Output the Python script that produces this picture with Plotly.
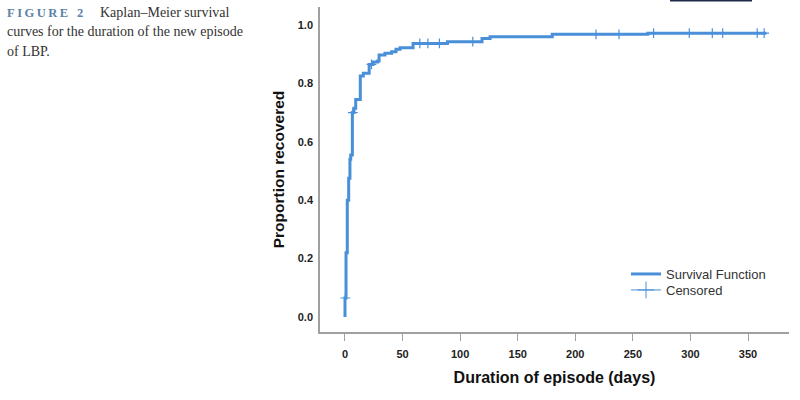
import plotly.graph_objects as go

# Kaplan-Meier curve (proportion recovered)
event_days = [0, 0.9, 2.0, 3.2, 4.3, 5.0, 6.4, 7.8, 9.3, 13.3, 15.9, 21, 24.3, 28.4,
              29.6, 34.7, 40.5, 44.3, 47.8, 59.1, 89, 119, 126, 180, 263, 366]
recovered = [0.065, 0.22, 0.40, 0.475, 0.54, 0.555, 0.70, 0.715, 0.745, 0.825, 0.835,
             0.865, 0.873, 0.877, 0.897, 0.903, 0.908, 0.917, 0.922, 0.937, 0.943,
             0.954, 0.960, 0.968, 0.972, 0.972]

censor_days = [0.3, 6.8, 23, 65, 72, 82, 111, 218, 238, 268, 299, 319, 328, 358, 364]
censor_vals = [0.065, 0.70, 0.865, 0.937, 0.937, 0.937, 0.943, 0.968, 0.968, 0.972,
               0.972, 0.972, 0.972, 0.972, 0.972]

x_ticks = [0, 50, 100, 150, 200, 250, 300, 350]
y_ticks = [0.0, 0.2, 0.4, 0.6, 0.8, 1.0]

blue = "#4a90d9"
W, H = 800, 400
L, R, T, B = 320, 11, 7, 68
pw, ph = W - L - R, H - T - B


def px(x):
    return (x - L) / pw


def py(y):
    return (H - B - y) / ph


fig = go.Figure()
fig.add_trace(go.Scatter(x=[0] + event_days, y=[0] + recovered, mode="lines",
                         line=dict(color=blue, width=3, shape="hv"),
                         name="Survival Function", legend="legend"))
fig.add_trace(go.Scatter(x=censor_days, y=censor_vals, mode="markers",
                         marker=dict(symbol="cross-thin", size=7, line=dict(color=blue, width=1.2)),
                         showlegend=False, hoverinfo="skip"))
# legend entry only
fig.add_trace(go.Scatter(x=[None], y=[None], mode="lines+markers", name="Censored",
                         legend="legend2", line=dict(color=blue, width=1),
                         marker=dict(symbol="cross-thin", size=12, line=dict(color=blue, width=1))))

axis_font = dict(family="Liberation Sans, Arial", size=11, color="#222", weight="bold")
fig.update_xaxes(range=[-21.7, 385.6], tickvals=x_ticks, showline=True, linecolor="#a0a0a0",
                 linewidth=1.5, ticks="outside", ticklen=7, tickcolor="#a0a0a0",
                 showgrid=False, zeroline=False, tickfont=axis_font,
                 ticklabelstandoff=4,
                 title=dict(text="<b>Duration of episode (days)</b>", standoff=13,
                            font=dict(family="Liberation Sans, Arial", size=16, color="#111")))
fig.update_yaxes(range=[-0.0514, 1.0616], tickvals=y_ticks, tickformat=".1f",
                 showline=True, linecolor="#a0a0a0", linewidth=1.5, ticks="",
                 showgrid=False, zeroline=False, tickfont=axis_font,
                 ticklabelstandoff=3,
                 title=dict(text="<b>Proportion recovered</b>", standoff=9,
                            font=dict(family="Liberation Sans, Arial", size=15.5, color="#111")))

leg_font = dict(family="Liberation Sans, Arial", size=13, color="#333")
fig.update_layout(
    width=W, height=H,
    margin=dict(l=L, r=R, t=T, b=B),
    paper_bgcolor="white", plot_bgcolor="white",
    showlegend=True,
    legend=dict(x=px(626), y=py(259), xanchor="left", yanchor="top",
                bgcolor="rgba(0,0,0,0)", itemwidth=30, font=leg_font),
    legend2=dict(x=px(626), y=py(275), xanchor="left", yanchor="top",
                 bgcolor="rgba(0,0,0,0)", itemwidth=30, font=leg_font),
    shapes=[dict(type="line", xref="paper", yref="paper", x0=px(670), x1=px(752),
                 y0=py(0.5), y1=py(0.5), line=dict(color="#1f2d4d", width=2))],
)

serif = "Liberation Serif, DejaVu Serif, serif"
cap = [
    ("<b>F\u2009I\u2009G\u2009U\u2009R\u2009E\u2002\u20092</b>", 5, 13, "#5b82a8", 12.5),
    ("Kaplan\u2013Meier survival", 98, 13, "#333", 14),
    ("curves for the duration of the new episode", 5, 32, "#333", 14),
    ("of LBP.", 5, 51, "#333", 14),
]
for txt, x, y, col, sz in cap:
    fig.add_annotation(text=txt, xref="paper", yref="paper", x=px(x), y=py(y),
                       xanchor="left", yanchor="middle", showarrow=False,
                       font=dict(family=serif, size=sz, color=col))

# the page's default body margin would shift everything by 8px
fig.write_html("out.html", config={"displayModeBar": False},
               post_script="document.body.style.margin='0';")
